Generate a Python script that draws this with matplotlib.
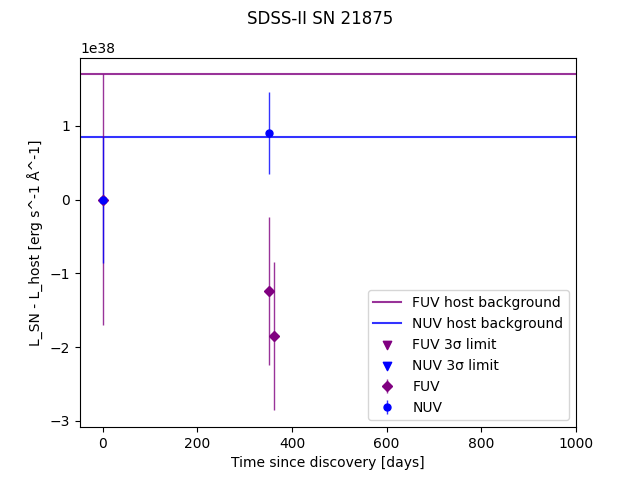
import matplotlib
matplotlib.use('Agg')
import matplotlib.pyplot as plt
import numpy as np

# host background luminosities (erg s^-1 A^-1)
fuv_host = 1.70e38
nuv_host = 0.855e38

# detections
fuv_t = [0, 351, 361]
fuv_l = [0.0, -1.24e38, -1.85e38]
fuv_err = [1.70e38, 1.00e38, 1.01e38]

nuv_t = [0, 351]
nuv_l = [0.0, 0.905e38]
nuv_err = [0.855e38, 0.55e38]

# upper limits (none for this SN)
fuv_lim_t, fuv_lim_l = [], []
nuv_lim_t, nuv_lim_l = [], []

fig, ax = plt.subplots(figsize=(6.4, 4.8), dpi=100)
fig.suptitle('SDSS-II SN 21875')

ax.axhline(fuv_host, color='purple', alpha=0.8, label='FUV host background')
ax.axhline(nuv_host, color='blue', alpha=0.8, label='NUV host background')

ax.scatter(fuv_lim_t, fuv_lim_l, marker='v', color='purple', label='FUV 3\u03c3 limit')
ax.scatter(nuv_lim_t, nuv_lim_l, marker='v', color='blue', label='NUV 3\u03c3 limit')

ax.errorbar(fuv_t, fuv_l, yerr=fuv_err, linestyle='none', marker='D', ms=5,
            color='purple', ecolor='purple', elinewidth=1, label='FUV')
ax.errorbar(nuv_t, nuv_l, yerr=nuv_err, linestyle='none', marker='o', ms=5,
            color='blue', ecolor='blue', elinewidth=1, label='NUV')
for c in ax.containers:
    for lc in c.lines[2]:
        lc.set_alpha(0.8)

ax.set_xlim(-48, 1000)
ax.set_xlabel('Time since discovery [days]')
ax.set_ylabel('L_SN - L_host [erg s^-1 \u00c5^-1]')
ax.legend(loc='lower right')

fig.savefig('out.png')
